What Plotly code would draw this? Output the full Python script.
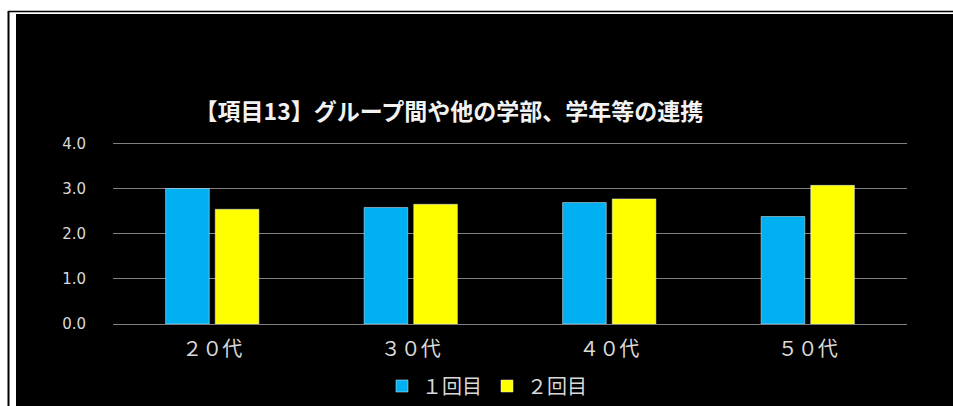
import plotly.graph_objects as go

categories = ["２０代", "３０代", "４０代", "５０代"]
round1 = [3.0, 2.58, 2.69, 2.38]
round2 = [2.54, 2.65, 2.77, 3.07]
series_names = ["１回目", "２回目"]
y_ticks = [0, 1, 2, 3, 4]
y_labels = ["0.0", "1.0", "2.0", "3.0", "4.0"]
title_text = "【項目13】グループ間や他の学部、学年等の連携"

W, H = 953, 406
YMAX = 4.03
L, R, T, B = 113, 46, 142, 82
pw, ph = W - L - R, H - T - B

def px(x):
    return (x - L) / pw

def py(y):
    return (H - B - y) / ph

FONT = "Noto Sans CJK JP"

fig = go.Figure()
fig.add_trace(go.Bar(x=categories, y=round1, name=series_names[0], marker_color="#00B0F0"))
fig.add_trace(go.Bar(x=categories, y=round2, name=series_names[1], marker_color="#FFFF00"))

shapes = [
    dict(type="rect", xref="paper", yref="paper", x0=px(16), x1=px(W), y0=py(H), y1=py(14),
         fillcolor="black", line_width=0, layer="below"),
    dict(type="line", xref="paper", yref="paper", x0=px(8), x1=px(W), y0=py(11.5), y1=py(11.5),
         line=dict(color="black", width=1.5), layer="below"),
    dict(type="line", xref="paper", yref="paper", x0=px(8.5), x1=px(8.5), y0=py(11), y1=py(H),
         line=dict(color="black", width=2), layer="below"),
]

fig.update_layout(
    width=W, height=H,
    margin=dict(l=L, r=R, t=T, b=B, autoexpand=False),
    paper_bgcolor="white", plot_bgcolor="black",
    font=dict(family=FONT, color="#d9d9d9"),
    barmode="group", bargap=0.5, bargroupgap=0.12,
    title=dict(text="<b>" + title_text + "</b>", x=px(449), xref="paper", xanchor="center",
               y=1 - 112 / H, yref="container", yanchor="middle",
               font=dict(family=FONT, size=23, color="#f2f2f2")),
    showlegend=True,
    legend=dict(orientation="h", x=px(487), xanchor="center", y=1 - 386 / H, yref="container",
                yanchor="middle",
                font=dict(family=FONT, size=20, color="#d9d9d9"), bgcolor="rgba(0,0,0,0)",
                itemwidth=30, traceorder="normal"),
    shapes=shapes,
    xaxis=dict(showgrid=False, showline=False, ticks="", tickfont=dict(size=20, color="#d9d9d9"),
               ticklabelstandoff=11, automargin=False),
    yaxis=dict(range=[0, YMAX], tickvals=y_ticks, ticktext=y_labels, showgrid=True,
               gridcolor="#808080", gridwidth=1, zeroline=True, zerolinecolor="#808080",
               zerolinewidth=1, showline=False, ticks="", automargin=False,
               tickfont=dict(family="DejaVu Sans", size=15, color="#d9d9d9"), ticklabelstandoff=26),
)

fig.write_html("out.html", config={"displayModeBar": False})
